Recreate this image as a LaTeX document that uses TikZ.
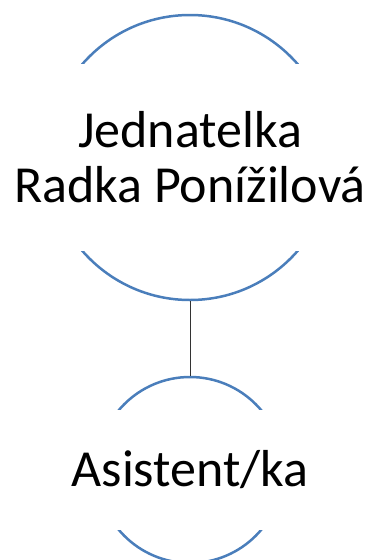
\documentclass[tikz,border=0pt]{standalone}
\usepackage{fontspec}
\setmainfont{Carlito}
\usepackage{xcolor}
\usepackage{tikz}
\usetikzlibrary{positioning}
\definecolor{arcblue}{HTML}{4A7EBB}
\pgfdeclarelayer{nodelayer}
\pgfdeclarelayer{edgelayer}
\pgfsetlayers{edgelayer,nodelayer,main}
\tikzset{
    ring/.style = {circle, draw=arcblue, line width=2.5pt, inner sep=0pt},
    label box/.style = {fill=white, inner sep=0pt, minimum width=369pt, align=center, font=\fontsize{52}{55}\selectfont},
    link/.style = {draw=black!80, line width=1pt}
}
\begin{document}
\begin{tikzpicture}[x=1pt, y=-1pt]
  \useasboundingbox (0, 0) rectangle (369, 560);
  \begin{pgfonlayer}{edgelayer}
    \node [ring, minimum size=285pt] (0) at (190, 157.5) {};
    \node [ring, minimum size=186pt] (1) at (190, 470) {};
    \draw [link] (0.south) to (1.north);
  \end{pgfonlayer}
  \begin{pgfonlayer}{nodelayer}
    \node [label box, minimum height=187pt] (2) at (190, 157.5) {Jednatelka\\Radka Ponížilová};
    \node [label box, minimum height=120pt] (3) at (190, 470) {Asistent/ka};
  \end{pgfonlayer}
\end{tikzpicture}
\end{document}
